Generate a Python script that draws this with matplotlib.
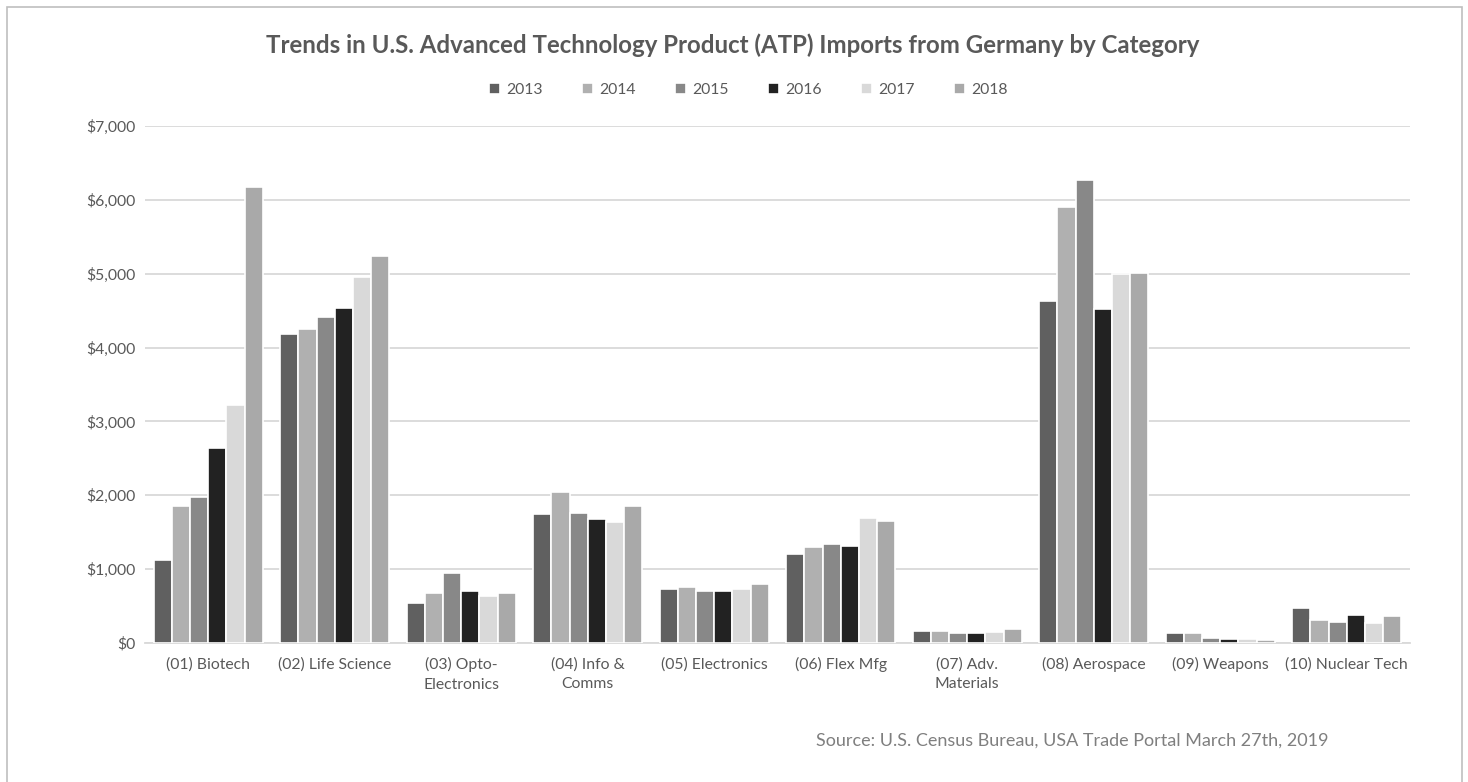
import matplotlib
matplotlib.use("Agg")
import matplotlib.pyplot as plt
import numpy as np
from matplotlib.patches import Rectangle

plt.rcParams['font.family'] = ['Lato', 'DejaVu Sans']

categories = ["(01) Biotech", "(02) Life Science", "(03) Opto-\nElectronics", "(04) Info &\nComms",
              "(05) Electronics", "(06) Flex Mfg", "(07) Adv.\nMaterials", "(08) Aerospace",
              "(09) Weapons", "(10) Nuclear Tech"]
years = ["2013", "2014", "2015", "2016", "2017", "2018"]
v2013 = [1120, 4190, 540, 1740, 730, 1200, 160, 4630, 130, 470]
v2014 = [1850, 4250, 680, 2040, 760, 1300, 160, 5900, 130, 310]
v2015 = [1980, 4410, 950, 1760, 700, 1340, 140, 6270, 70, 280]
v2016 = [2640, 4530, 710, 1680, 700, 1310, 130, 4520, 60, 380]
v2017 = [3220, 4950, 640, 1640, 730, 1690, 150, 5000, 50, 270]
v2018 = [6180, 5240, 680, 1860, 800, 1650, 190, 5010, 40, 370]
series = [v2013, v2014, v2015, v2016, v2017, v2018]
colors = ["#606060", "#b0b0b0", "#888888", "#222222", "#d9d9d9", "#a9a9a9"]

W, H = 1468, 782
fig = plt.figure(figsize=(W / 100, H / 100), dpi=100)
ax = fig.add_axes([145 / W, 1 - 643 / H, (1410 - 145) / W, (643 - 126) / H])

x = np.arange(len(categories))
n = len(series)
slot = 0.86 / n
for i, (vals, c) in enumerate(zip(series, colors)):
    ax.bar(x + (i - (n - 1) / 2) * slot, vals, width=slot, color=c,
           edgecolor="white", linewidth=1.2, label=years[i], zorder=3)

ax.set_xlim(-0.5, len(categories) - 0.5)
ax.set_ylim(0, 7000)
ax.set_yticks(np.arange(0, 7001, 1000))
ax.set_yticklabels(["$0"] + [f"${v:,}" for v in range(1000, 7001, 1000)])
ax.set_xticks(x)
ax.set_xticklabels(categories, linespacing=1.55)
ax.tick_params(axis='both', length=0, labelsize=11.3, colors="#595959")
ax.tick_params(axis='x', pad=10)
ax.tick_params(axis='y', pad=7)
ax.grid(axis='y', color="#d9d9d9", linewidth=1.3, zorder=0)
for s in ["top", "right", "left"]:
    ax.spines[s].set_visible(False)
ax.spines["bottom"].set_color("#d9d9d9")
ax.spines["bottom"].set_linewidth(1.3)

fig.text(733 / W, 1 - 45 / H, "Trends in U.S. Advanced Technology Product (ATP) Imports from Germany by Category",
         ha="center", va="center", fontsize=17.3, fontweight="bold", color="#595959")

leg = fig.legend(loc="center", bbox_to_anchor=(748 / W, 1 - 90 / H), ncol=6, frameon=False,
                 fontsize=11.3, handlelength=0.7, handleheight=0.7, columnspacing=2.5, handletextpad=0.4)
for t in leg.get_texts():
    t.set_color("#595959")

fig.text(1328 / W, 1 - 741 / H, "Source: U.S. Census Bureau, USA Trade Portal March 27th, 2019",
         ha="right", va="center", fontsize=13, color="#7f7f7f")

fig.patches.append(Rectangle((7 / W, -0.05), (1462 - 7) / W, 1 - 7 / H + 0.05,
                             transform=fig.transFigure, fill=False, edgecolor="#bfbfbf", linewidth=1.2))

fig.savefig("out.png", dpi=100, facecolor="white")
